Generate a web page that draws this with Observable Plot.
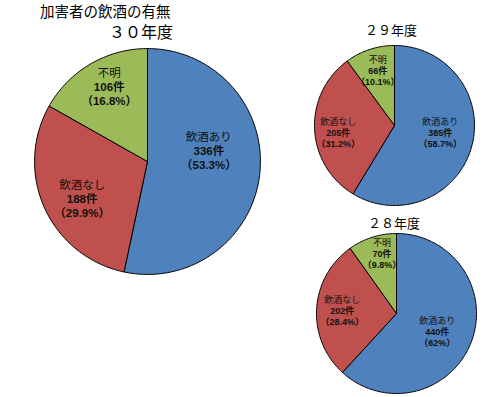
<!DOCTYPE html>
<html><head><meta charset="utf-8">
<script src="https://cdn.jsdelivr.net/npm/d3@7"></script>
<script src="https://cdn.jsdelivr.net/npm/@observablehq/plot@0.6"></script>
<style>
body{margin:0;background:#fff;}
#wrap{position:relative;width:490px;height:397px;overflow:hidden;font-family:"Noto Sans CJK JP",sans-serif;background:#fff;}
.t{position:absolute;white-space:nowrap;color:#000;line-height:1;}
.p{position:absolute;}
</style></head><body><div id="wrap"></div>
<script>
const mainTitle = "加害者の飲酒の有無";
const categories = ["飲酒あり", "飲酒なし", "不明"];
const colors = ["#4F81BD", "#C0504D", "#9BBB59"];
const years = ["３０年度", "２９年度", "２８年度"];
const counts30 = [336, 188, 106];
const pct30 = [53.3, 29.9, 16.8];
const counts29 = [385, 205, 66];
const pct29 = [58.7, 31.2, 10.1];
const counts28 = [440, 202, 70];
const pct28 = [62, 28.4, 9.8];

const wrap = document.getElementById("wrap");

function addText(txt, cx, cy, fs, anchor) {
  const d = document.createElement("div");
  d.className = "t";
  d.textContent = txt;
  d.style.fontSize = fs + "px";
  wrap.appendChild(d);
  const w = d.getBoundingClientRect().width;
  d.style.left = (anchor === "start" ? cx : cx - w / 2) + "px";
  d.style.top = (cy - fs / 2) + "px";
}

// labelPlace: per slice [angle offset in degrees, radius as share of pie radius] (layout only)
function pie(counts, pcts, size, fs, lh, labelPlace) {
  const total = d3.sum(counts);
  const pts = [];
  const labels = [];
  let a = 0;
  counts.forEach((c, i) => {
    const a0 = a, a1 = a + c / total * 2 * Math.PI;
    a = a1;
    const cat = categories[i];
    pts.push({cat, x: 0, y: 0});
    const n = Math.max(2, Math.ceil((a1 - a0) / (Math.PI / 180)));
    for (let k = 0; k <= n; k++) {
      const t = a0 + (a1 - a0) * k / n;
      pts.push({cat, x: Math.sin(t), y: Math.cos(t)});
    }
    pts.push({cat, x: 0, y: 0});
    const [off, r] = labelPlace[i];
    const m = (a0 + a1) / 2 + off * Math.PI / 180;
    labels.push({cat, x: r * Math.sin(m), y: r * Math.cos(m), name: cat, num: `${c}件`, pct: `（${pcts[i]}%）`});
  });
  const D = 1.0625;
  const ff = "Liberation Sans, Noto Sans CJK JP, sans-serif";
  return Plot.plot({
    width: size, height: size, margin: 0,
    x: {domain: [-D, D], axis: null},
    y: {domain: [-D, D], axis: null},
    color: {domain: categories, range: colors},
    style: {background: "transparent"},
    marks: [
      Plot.line(pts, {x: "x", y: "y", z: "cat", fill: "cat", stroke: "black", strokeWidth: 1, strokeLinejoin: "round"}),
      Plot.text(labels, {x: "x", y: "y", text: "name", dy: -lh, fontSize: fs, fill: "#111", fontFamily: "Noto Sans CJK JP"}),
      Plot.text(labels, {x: "x", y: "y", text: "num", fontSize: fs, fontWeight: "bold", fill: "#111", fontFamily: ff}),
      Plot.text(labels, {x: "x", y: "y", text: "pct", dy: lh, fontSize: fs, fontWeight: "bold", fill: "#111", fontFamily: ff})
    ]
  });
}

function place(node, left, top) {
  node.classList.add("p");
  node.style.left = left + "px";
  node.style.top = top + "px";
  wrap.appendChild(node);
}

place(pie(counts30, pct30, 240, 11.5, 14, [[-15, 0.55], [-6, 0.67], [3, 0.74]]), 27, 41);
place(pie(counts29, pct29, 170, 9, 11, [[-6, 0.58], [-5, 0.71], [1, 0.71]]), 309, 40);
place(pie(counts28, pct28, 170, 9, 11, [[3, 0.56], [-1, 0.68], [4, 0.76]]), 311, 228);

addText(mainTitle, 40, 11, 14.5, "start");
addText(years[0], 141, 31, 16);
addText(years[1], 391, 29, 13);
addText(years[2], 394, 222, 13);
</script></body></html>
